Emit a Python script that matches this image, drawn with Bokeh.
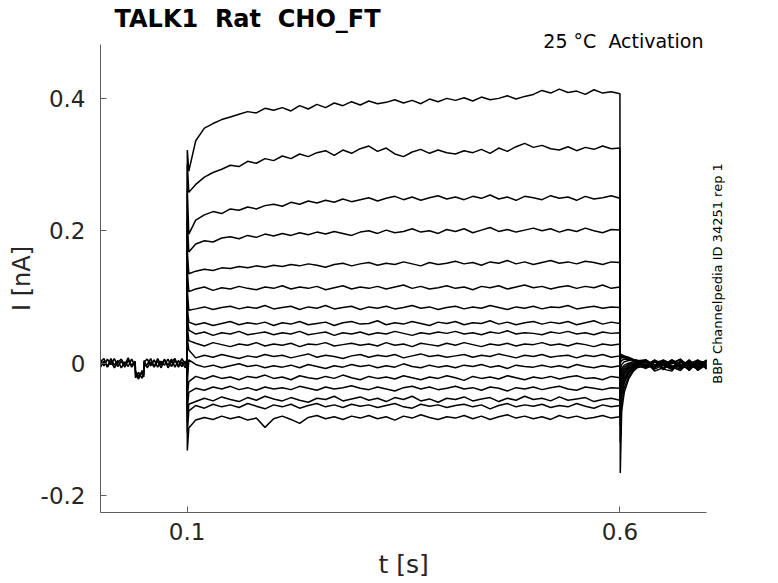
import math
from bokeh.plotting import figure
from bokeh.models import Range1d, FixedTicker, CustomJSTickFormatter, Title, Label
from bokeh.embed import file_html
from bokeh.resources import INLINE

# ---------------- data (time in ms, current in pA) ----------------
t_pre_ms = [0, 4, 8, 12, 16, 20, 24, 28, 32, 36, 40, 40.4, 44, 48, 50, 50.4,
            54, 58, 62, 66, 70, 74, 78, 82, 86, 90, 94, 98, 100]
pre_a_pA = [5, -4, 6, -2, 7, -5, 3, -6, 4, -3, 3, -12, -20, -15, -18, 2,
            6, -4, 5, -6, 3, -3, 6, -5, 4, -4, 7, -2, 1]
pre_b_pA = [-6, 3, -5, 7, -3, 4, -7, 2, -5, 6, -4, -22, -14, -23, -12, -5,
            -2, 7, -5, 3, -7, 5, -3, 6, -6, 4, -5, 3, -1]
pre_c_pA = [2, 7, -6, 3, -7, 1, 6, -3, 8, -6, 1, -16, -24, -11, -21, 4,
            -7, 2, -6, 7, -3, 6, -7, 2, 7, -6, 2, -7, 2]

t_step_ms = ([100, 100.3, 102] + list(range(110, 601, 10)) +
             [600.4, 602, 605, 610, 615, 620, 630, 640, 650, 660, 670, 680, 690, 700])

trace01_pA = [1, 322, 290,
    336, 355, 362, 368, 372, 376, 380, 378, 385, 382,
    386, 381, 389, 384, 391, 386, 393, 389, 395, 390,
    396, 392, 394, 398, 393, 397, 392, 399, 395, 400,
    397, 401, 396, 402, 398, 400, 404, 399, 403, 406,
    412, 408, 414, 409, 411, 406, 413, 408, 410, 407,
    -166, -72, -44, -24, -13, -7, -3, 4, -9, 3, -8, 1, -6, 2]
trace02_pA = [-1, 300, 258,
    270, 281, 288, 293, 299, 297, 305, 302, 309, 306,
    313, 309, 316, 312, 318, 321, 314, 322, 317, 324,
    328, 320, 325, 316, 312, 319, 323, 317, 322, 318,
    316, 321, 318, 323, 317, 325, 320, 327, 332, 326,
    329, 324, 322, 327, 321, 326, 323, 328, 324, 325,
    -120, -60, -37, -20, -11, -5, -6, 5, -2, -10, 3, -4, 4, -8]
trace03_pA = [0, 262, 195,
    216, 224, 229, 226, 233, 231, 236, 233, 238, 240,
    237, 243, 240, 245, 242, 246, 243, 248, 244, 247,
    250, 245, 249, 252, 247, 251, 246, 250, 253, 248,
    251, 247, 252, 249, 254, 248, 251, 246, 252, 250,
    247, 253, 249, 251, 246, 252, 248, 250, 253, 249,
    -95, -50, -30, -16, -9, -4, 2, -12, -7, 5, -3, -9, 3, -1]
trace04_pA = [2, 215, 168,
    180, 185, 183, 189, 191, 188, 193, 190, 195, 192,
    196, 193, 197, 194, 198, 195, 199, 196, 193, 198,
    200, 196, 201, 197, 199, 203, 198, 200, 196, 202,
    199, 203, 197, 201, 205, 199, 202, 198, 201, 204,
    200, 203, 198, 202, 199, 204, 200, 197, 202, 201,
    -80, -42, -26, -14, -8, -3, -8, 1, 4, -6, -11, 2, -5, 3]
trace05_pA = [-2, 170, 135,
    139, 142, 140, 144, 143, 146, 144, 147, 145, 148,
    146, 149, 147, 150, 148, 145, 149, 151, 147, 150,
    152, 148, 151, 149, 153, 150, 147, 152, 149, 151,
    154, 150, 152, 148, 153, 151, 155, 150, 153, 149,
    152, 155, 151, 153, 150, 154, 152, 149, 153, 152,
    -70, -36, -22, -12, -6, -2, 3, -6, -1, 4, -7, 5, -10, -3]
trace06_pA = [1, 140, 108,
    112, 115, 110, 114, 112, 116, 113, 111, 115, 113,
    117, 112, 115, 113, 116, 111, 114, 117, 112, 115,
    113, 116, 112, 115, 118, 113, 116, 112, 114, 117,
    113, 115, 111, 116, 114, 117, 112, 115, 118, 114,
    116, 112, 115, 117, 113, 116, 114, 118, 113, 115,
    -60, -30, -18, -9, -5, -1, -4, 3, -9, -12, 4, -2, 1, -7]
trace07_pA = [-1, 110, 80,
    82, 85, 81, 84, 86, 82, 85, 83, 87, 82,
    84, 86, 81, 85, 83, 87, 82, 84, 86, 81,
    85, 83, 86, 82, 84, 87, 83, 85, 81, 84,
    86, 82, 85, 83, 87, 84, 81, 85, 83, 86,
    82, 85, 84, 87, 82, 84, 86, 83, 85, 84,
    -50, -25, -15, -8, -4, -1, 5, -3, 2, -8, -1, -10, 4, -4]
trace08_pA = [0, 85, 62,
    58, 61, 57, 60, 63, 58, 61, 59, 62, 57,
    61, 59, 63, 58, 60, 62, 57, 61, 63, 59,
    60, 64, 58, 61, 59, 63, 60, 57, 62, 60,
    63, 58, 61, 60, 64, 59, 62, 58, 61, 63,
    59, 62, 60, 63, 58, 61, 64, 59, 62, 60,
    -42, -20, -12, -6, -3, 0, -7, -4, 5, -1, 6, -8, -3, 3]
trace09_pA = [2, 70, 50,
    44, 47, 42, 46, 44, 48, 43, 45, 47, 43,
    46, 44, 48, 43, 45, 47, 42, 46, 44, 47,
    43, 46, 44, 48, 45, 42, 46, 44, 47, 45,
    48, 44, 46, 43, 47, 45, 49, 44, 46, 45,
    43, 47, 45, 48, 44, 46, 43, 47, 45, 46,
    -35, -16, -9, -4, -2, 1, 2, -9, -3, 3, -6, 4, -11, -1]
trace10_pA = [-1, 55, 34,
    30, 26, 31, 28, 25, 29, 27, 31, 26, 29,
    27, 30, 25, 29, 28, 31, 26, 28, 30, 27,
    29, 26, 31, 27, 29, 25, 30, 28, 26, 30,
    27, 31, 28, 25, 29, 27, 30, 26, 29, 28,
    31, 27, 29, 26, 30, 28, 25, 29, 27, 29,
    -28, -12, -6, -2, 0, 2, -3, 4, -7, 1, -4, -1, 5, -9]
trace11_pA = [1, 38, 20,
    8, 12, 9, 13, 10, 7, 11, 9, 13, 10,
    12, 8, 11, 14, 9, 12, 10, 7, 11, 13,
    9, 12, 10, 13, 8, 11, 14, 10, 12, 9,
    11, 13, 9, 12, 10, 14, 11, 8, 12, 10,
    13, 9, 11, 12, 8, 12, 10, 13, 9, 11,
    -20, -8, -3, 0, 2, 3, 5, -6, 1, -9, 3, -5, -2, 4]
trace12_pA = [-2, -30, 5,
    -2, -6, -3, -7, -4, -1, -5, -3, -7, -4,
    -6, -3, -7, -2, -5, -8, -4, -6, -2, -5,
    -3, -7, -4, -6, -1, -5, -7, -3, -6, -4,
    -7, -3, -5, -2, -6, -4, -8, -3, -5, -6,
    -3, -6, -4, -7, -2, -5, -7, -4, -6, -4,
    -10, -2, 2, 4, 5, 4, -2, 3, -10, 2, -6, 4, -7, -3]
trace13_pA = [0, -50, -28,
    -20, -24, -19, -23, -21, -25, -20, -22, -18, -23,
    -21, -25, -19, -22, -24, -20, -23, -18, -22, -25,
    -20, -23, -21, -24, -19, -22, -25, -21, -23, -19,
    -22, -26, -20, -23, -21, -24, -19, -22, -25, -21,
    -23, -20, -24, -21, -19, -23, -22, -25, -20, -22,
    0, 4, 6, 6, 5, 4, 4, -7, 3, -4, -9, 1, 2, -6]
trace14_pA = [-1, -70, -44,
    -38, -41, -36, -39, -35, -40, -37, -41, -36, -39,
    -37, -40, -35, -38, -41, -36, -39, -37, -34, -38,
    -40, -36, -39, -42, -37, -35, -39, -36, -40, -38,
    -35, -39, -37, -41, -36, -38, -42, -37, -39, -36,
    -40, -37, -35, -39, -41, -36, -38, -40, -37, -38,
    6, 8, 8, 7, 5, 4, -5, 2, -3, 5, -2, -8, 4, 0]
trace15_pA = [2, -90, -62,
    -58, -53, -57, -51, -55, -58, -52, -56, -50, -54,
    -57, -52, -56, -59, -53, -55, -50, -57, -54, -51,
    -56, -53, -58, -52, -55, -50, -57, -54, -59, -53,
    -55, -51, -57, -54, -52, -58, -53, -56, -50, -55,
    -53, -57, -51, -56, -54, -52, -58, -55, -53, -56,
    10, 10, 9, 7, 5, 3, 1, -5, 4, -7, 2, -3, -9, 5]
trace16_pA = [-2, -105, -72,
    -64, -68, -62, -66, -63, -67, -61, -65, -69, -63,
    -66, -62, -68, -64, -61, -66, -63, -67, -62, -65,
    -63, -67, -64, -61, -66, -68, -62, -65, -63, -67,
    -64, -62, -66, -63, -69, -64, -61, -66, -63, -65,
    -62, -67, -64, -66, -61, -65, -68, -63, -66, -64,
    12, 11, 10, 8, 5, 3, -3, 3, -8, 0, 6, -6, -1, -4]
trace17_pA = [0, -132, -98,
    -86, -82, -85, -80, -84, -81, -86, -83, -97, -84,
    -80, -85, -91, -82, -79, -84, -81, -85, -80, -83,
    -79, -84, -81, -86, -80, -83, -78, -82, -85, -81,
    -83, -79, -84, -80, -85, -81, -78, -83, -80, -84,
    -81, -85, -79, -83, -80, -84, -82, -79, -83, -81,
    14, 13, 11, 9, 6, 3, 4, -4, 1, -6, 3, -11, 2, -5]

traces_pA = [trace01_pA, trace02_pA, trace03_pA, trace04_pA, trace05_pA, trace06_pA,
             trace07_pA, trace08_pA, trace09_pA, trace10_pA, trace11_pA, trace12_pA,
             trace13_pA, trace14_pA, trace15_pA, trace16_pA, trace17_pA]
pre_traces_pA = [pre_a_pA, pre_b_pA, pre_c_pA]

x_ticks_ms = [100, 600]
y_ticks_pA = [-200, 0, 200, 400]
x_axis_ms = (0, 700)

NB = "\u00a0"
title_text = "TALK1" + NB + " Rat" + NB + " CHO_FT"
subtitle_text = "25 \u00b0C" + NB + " Activation"
side_text = "BBP Channelpedia ID 34251 rep 1"
x_label_text = "t [s]"
y_label_text = "I [nA]"

for tr in traces_pA:
    assert len(tr) == len(t_step_ms), len(tr)
for tr in pre_traces_pA:
    assert len(tr) == len(t_pre_ms)

# ---------------- figure ----------------
FONT = "DejaVu Sans"
AX = "#5c5c5c"
TXT = "#262626"
PX_PER_MS = 606 / 700.0

W, H = 770, 583
LEFT, TOP, BOTTOM = 100, 43, 71
x_end_ms = (W - LEFT) / PX_PER_MS     # frame runs to the right edge (room for the side note)

p = figure(width=W, height=H, output_backend="svg", toolbar_location=None,
           x_range=Range1d(0, x_end_ms), y_range=Range1d(-225.6, 481.4),
           min_border_left=LEFT, min_border_right=0, min_border_top=TOP,
           min_border_bottom=BOTTOM)
p.outline_line_color = None
p.background_fill_color = "white"
p.border_fill_color = "white"
p.xgrid.visible = False
p.ygrid.visible = False

fmt = CustomJSTickFormatter(code="return (tick/1000).toString();")
for ax, ticks in ((p.xaxis[0], x_ticks_ms), (p.yaxis[0], y_ticks_pA)):
    ax.ticker = FixedTicker(ticks=ticks)
    ax.formatter = fmt
    ax.axis_line_color = AX
    ax.axis_line_width = 1
    ax.major_tick_line_color = AX
    ax.major_tick_line_width = 1
    ax.major_tick_in = 6
    ax.major_tick_out = 0
    ax.minor_tick_line_color = None
    ax.major_label_text_font = FONT
    ax.major_label_text_font_size = "23px"
    ax.major_label_text_color = TXT
    ax.axis_label_text_font = FONT
    ax.axis_label_text_font_style = "normal"
    ax.axis_label_text_color = TXT
p.xaxis[0].bounds = x_axis_ms
p.yaxis[0].major_label_standoff = 15
p.xaxis[0].major_label_standoff = 10
p.yaxis[0].axis_label = y_label_text
p.yaxis[0].axis_label_text_font_size = "24px"
p.yaxis[0].axis_label_standoff = 2
# the frame is wider than the time axis, so pad the label to centre it under the axis
p.xaxis[0].axis_label = x_label_text + NB * 8
p.xaxis[0].axis_label_text_font_size = "25px"
p.xaxis[0].axis_label_standoff = 7

p.add_layout(Title(text=subtitle_text, align="right", offset=W - 703, text_font=FONT,
                   text_font_size="19px", text_font_style="normal", text_color="black",
                   standoff=-14), "above")
p.add_layout(Title(text=title_text, align="left", offset=14, text_font=FONT,
                   text_font_size="24px", text_font_style="bold", text_color="black",
                   standoff=4), "above")

for tr in pre_traces_pA:
    p.line(t_pre_ms, tr, line_color="black", line_width=1.6)
for tr in traces_pA:
    p.line(t_step_ms, tr, line_color="black", line_width=1.5)

p.add_layout(Label(x=712.7, y=135.5, text=side_text, text_font=FONT,
                   text_font_size="13px", text_color="black", text_align="center",
                   text_baseline="middle", angle=math.pi / 2))

open("out.html", "w").write(file_html(p, INLINE))
